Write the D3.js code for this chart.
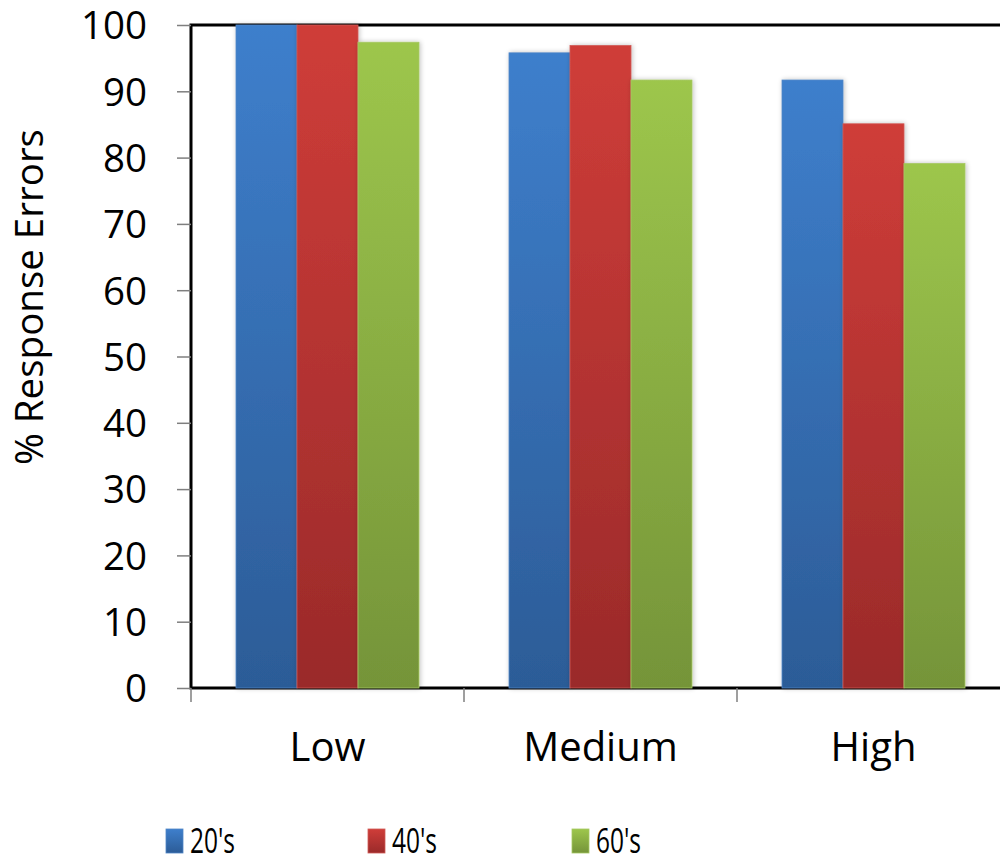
<!DOCTYPE html>
<html>
<head>
<meta charset="utf-8">
<script src="https://cdn.jsdelivr.net/npm/d3@7"></script>
<style>
  html, body { margin: 0; padding: 0; background: #fff; }
  svg { display: block; font-family: "Open Sans", sans-serif; }
</style>
</head>
<body>
<svg id="chart" width="1000" height="858"></svg>
<script>
// Response errors by load level and age group
const categories = ["Low", "Medium", "High"];
const seriesNames = ["20's", "40's", "60's"];
const values20s = [100, 95.8, 91.7];
const values40s = [100, 96.9, 85.1];
const values60s = [97.4, 91.7, 79.1];
const yTicks = [0, 10, 20, 30, 40, 50, 60, 70, 80, 90, 100];
const seriesValues = [values20s, values40s, values60s];
// gradient stops per series: [top, bottom]
const seriesColors = [
  ["#3e7fcc", "#2c5c97"],
  ["#cf3d39", "#9a2a2a"],
  ["#9dc64c", "#759439"]
];
const seriesStroke = ["#4f86c6", "#d05a56", "#a6c862"];

const svg = d3.select("#chart");
const plotLeft = 191, plotRight = 1010, plotTop = 25, plotBottom = 688;

const x = d3.scaleBand().domain(categories).range([plotLeft, plotRight]).paddingInner(0).paddingOuter(0);
const xs = d3.scaleBand().domain(seriesNames).range([0, x.bandwidth()]).paddingInner(0).paddingOuter(0.738);
const y = d3.scaleLinear().domain([0, 100]).range([plotBottom, plotTop]);

const defs = svg.append("defs");
seriesColors.forEach((c, i) => {
  const g = defs.append("linearGradient").attr("id", "grad" + i)
    .attr("x1", 0).attr("y1", 0).attr("x2", 0).attr("y2", 1);
  g.append("stop").attr("offset", "0%").attr("stop-color", c[0]);
  g.append("stop").attr("offset", "100%").attr("stop-color", c[1]);
});
const shadow = defs.append("filter").attr("id", "shadow")
  .attr("x", "-20%").attr("y", "-5%").attr("width", "140%").attr("height", "110%");
shadow.append("feGaussianBlur").attr("in", "SourceAlpha").attr("stdDeviation", 2.5).attr("result", "blur");
shadow.append("feOffset").attr("in", "blur").attr("dx", 1).attr("dy", 0).attr("result", "off");
shadow.append("feComponentTransfer").attr("in", "off").attr("result", "soft")
  .append("feFuncA").attr("type", "linear").attr("slope", 0.25);
const merge = shadow.append("feMerge");
merge.append("feMergeNode").attr("in", "soft");
merge.append("feMergeNode").attr("in", "SourceGraphic");

// plot frame
svg.append("rect")
  .attr("x", plotLeft).attr("y", plotTop)
  .attr("width", plotRight - plotLeft).attr("height", plotBottom - plotTop)
  .attr("fill", "none").attr("stroke", "#000").attr("stroke-width", 3);

// y axis
const yAxis = d3.axisLeft(y).tickValues(yTicks).tickSize(14).tickPadding(30).tickFormat(d3.format("d"));
const gy = svg.append("g").attr("transform", `translate(${plotLeft},0)`).call(yAxis);
gy.select(".domain").remove();
gy.selectAll(".tick line").attr("stroke", "#7f7f7f").attr("stroke-width", 1.5);
gy.selectAll(".tick text").attr("font-size", 38.5).attr("fill", "#000")
  .attr("font-family", "'Open Sans', sans-serif").attr("dy", "0.36em");

// x axis tick marks at category boundaries
const boundaries = categories.map(c => x(c)).concat([x(categories[categories.length - 1]) + x.bandwidth()]);
svg.append("g").selectAll("line").data(boundaries).join("line")
  .attr("x1", d => d).attr("x2", d => d)
  .attr("y1", plotBottom).attr("y2", plotBottom + 14)
  .attr("stroke", "#7f7f7f").attr("stroke-width", 1.5);

// category labels
svg.append("g").selectAll("text").data(categories).join("text")
  .attr("x", d => x(d) + x.bandwidth() / 2)
  .attr("y", 761)
  .attr("text-anchor", "middle")
  .attr("font-size", 40)
  .attr("fill", "#000")
  .text(d => d);

// bars
const barData = [];
categories.forEach((c, ci) => {
  seriesNames.forEach((s, si) => {
    barData.push({ cat: c, series: s, si, value: seriesValues[si][ci] });
  });
});
svg.append("g").selectAll("rect").data(barData).join("rect")
  .attr("x", d => x(d.cat) + xs(d.series))
  .attr("y", d => y(d.value))
  .attr("width", xs.bandwidth())
  .attr("height", d => y(0) - y(d.value))
  .attr("fill", d => `url(#grad${d.si})`)
  .attr("stroke", d => seriesStroke[d.si])
  .attr("stroke-width", 0.8)
  .attr("filter", "url(#shadow)");

// y axis title
svg.append("text")
  .attr("transform", "translate(43,297) rotate(-90)")
  .attr("text-anchor", "middle")
  .attr("font-size", 38.5)
  .attr("fill", "#000")
  .text("% Response Errors");

// legend
const legendX = [166, 368, 572];
const legend = svg.append("g").selectAll("g").data(seriesNames).join("g")
  .attr("transform", (d, i) => `translate(${legendX[i]},829)`);
legend.append("rect")
  .attr("width", 17).attr("height", 24)
  .attr("fill", (d, i) => `url(#grad${i})`)
  .attr("stroke", (d, i) => seriesStroke[i]).attr("stroke-width", 0.8);
legend.append("text")
  .attr("transform", "translate(24,24) scale(0.7,1)")
  .attr("font-size", 35)
  .attr("fill", "#000")
  .text(d => d);
</script>
</body>
</html>
